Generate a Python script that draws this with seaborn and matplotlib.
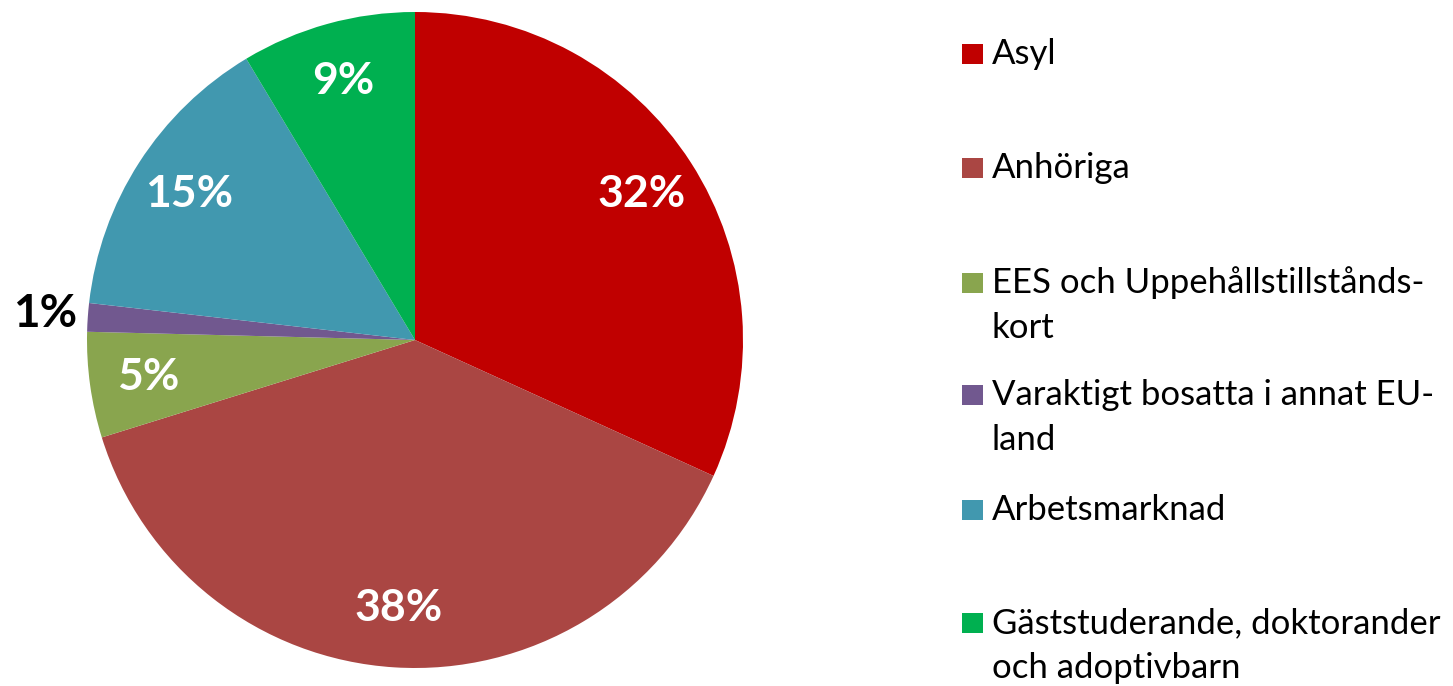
import numpy as np
import matplotlib
matplotlib.use("Agg")
import matplotlib.pyplot as plt
from matplotlib.patches import Rectangle
import seaborn as sns

categories = ["Asyl", "Anhöriga", "EES och Uppehållstillstånds-\nkort",
              "Varaktigt bosatta i annat EU-\nland", "Arbetsmarknad",
              "Gäststuderande, doktorander\noch adoptivbarn"]
values = [31.8, 38.4, 5.2, 1.4, 14.6, 8.6]
colors = ["#C00000", "#AA4643", "#89A54E", "#71588F", "#4198AF", "#00B050"]

sns.set_theme(style="white")
plt.rcParams['font.family'] = ['Lato', 'DejaVu Sans']

W, H = 1453, 686
fig = plt.figure(figsize=(W / 100, H / 100), dpi=100)
cx, cy, r = 415, 340, 328
ax = fig.add_axes([(cx - r) / W, (H - cy - r) / H, 2 * r / W, 2 * r / H])

palette = sns.color_palette(colors)
wedges, texts, autotexts = ax.pie(
    values, colors=palette, startangle=90, counterclock=False,
    autopct="%.0f%%", pctdistance=0.82, radius=1,
    wedgeprops=dict(linewidth=0),
    textprops=dict(color="white", fontsize=32, fontweight="bold"))
ax.set_xlim(-1, 1)
ax.set_ylim(-1, 1)
ax.set_aspect("equal")
ax.axis("off")

# small slice label outside, in black
for w, t, v in zip(wedges, autotexts, values):
    if v < 3:
        ang = np.deg2rad((w.theta1 + w.theta2) / 2)
        t.set_position((1.13 * np.cos(ang), 1.13 * np.sin(ang)))
        t.set_color("black")
        t.set_fontsize(33)

# legend (manual layout to match spacing)
baselines = [64, 178, 293, 405, 520, 633]
line_gap = 45
for lab, col, yb in zip(categories, colors, baselines):
    fig.patches.append(Rectangle((962 / W, (H - yb) / H), 21 / W, 20 / H,
                                 transform=fig.transFigure, facecolor=col,
                                 edgecolor="none"))
    for i, line in enumerate(lab.split("\n")):
        fig.text(992 / W, (H - yb - i * line_gap) / H, line, fontsize=25,
                 color="black", va="baseline", ha="left")

fig.savefig("out.png", dpi=100)
